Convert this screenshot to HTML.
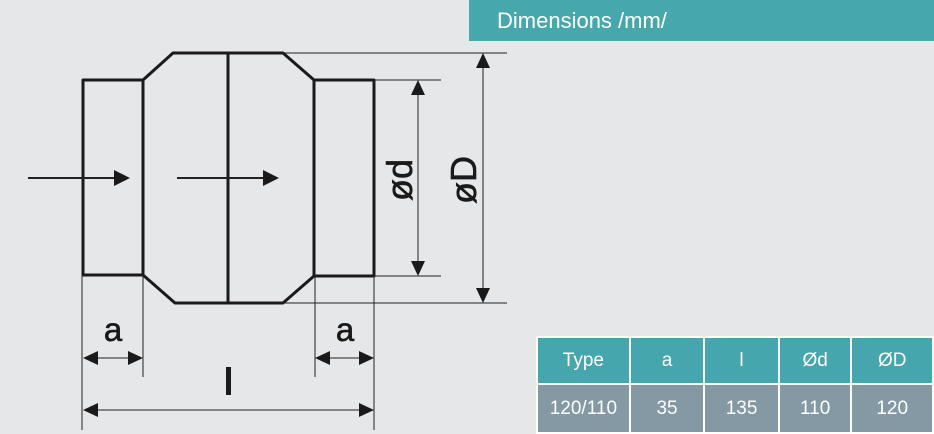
<!DOCTYPE html>
<html><head><style>
body{margin:0;width:934px;height:433px;background:#e6e7e9;overflow:hidden;position:relative;font-family:"Liberation Sans",Arial,sans-serif}
.hdr{position:absolute;left:469px;top:0;width:465px;height:41px;background:#46a7ad;color:#fff;font-size:22px;line-height:41px;padding-left:28px;box-sizing:border-box}
table{position:absolute;left:536px;top:336px;border-collapse:collapse;background:#fff}
td{border:2px solid #fff;color:#fff;font-size:19px;text-align:center;padding:0}
tr.h td{background:#45a6ae;height:45px}
tr.d td{background:#8599a4;height:47px}
</style></head><body>
<svg width="934" height="433" style="position:absolute;left:0;top:0" font-family="Liberation Sans, Arial, sans-serif">
<g fill="none" stroke="#1a1a1a" stroke-width="3" stroke-linejoin="round">
<rect x="83" y="80" width="60" height="195"/>
<rect x="314" y="80" width="60" height="196"/>
<path d="M143 80 L173 53 L283 53 L314 80 M143 275 L175 303 L283 303 L314 276"/>
<line x1="228" y1="53" x2="228" y2="303"/>
</g>
<g stroke="#222" stroke-width="1">
<line x1="283" y1="53" x2="507" y2="53"/>
<line x1="283" y1="303" x2="507" y2="303"/>
<line x1="374" y1="80" x2="441" y2="80"/>
<line x1="374" y1="276" x2="441" y2="276"/>
<line x1="483" y1="60" x2="483" y2="296"/>
<line x1="418" y1="88" x2="418" y2="268"/>
<line x1="82" y1="275" x2="82" y2="430"/>
<line x1="143" y1="275" x2="143" y2="377"/>
<line x1="315" y1="276" x2="315" y2="377"/>
<line x1="374" y1="276" x2="374" y2="430"/>
<line x1="88" y1="358" x2="138" y2="358"/>
<line x1="320" y1="358" x2="369" y2="358"/>
<line x1="88" y1="410" x2="369" y2="410"/>
<line x1="28" y1="178" x2="118" y2="178" stroke-width="2"/>
<line x1="177" y1="178" x2="266" y2="178" stroke-width="2"/>
</g>
<g fill="#1a1a1a">
<path d="M483 53 L476 68 L490 68Z M483 303 L476 288 L490 288Z"/>
<path d="M418 80 L411 95 L425 95Z M418 276 L411 261 L425 261Z"/>
<path d="M83 358 L98 351 L98 365Z M143 358 L128 351 L128 365Z"/>
<path d="M315 358 L330 351 L330 365Z M374 358 L359 351 L359 365Z"/>
<path d="M83 410 L98 403 L98 417Z M374 410 L359 403 L359 417Z"/>
<path d="M130 178 L114 170 L114 186Z M279 178 L263 170 L263 186Z"/>
<rect x="226" y="367" width="5" height="28"/>
</g>
<g fill="#1a1a1a" font-size="33" stroke="#1a1a1a" stroke-width="0.6">
<text x="113" y="341" text-anchor="middle">a</text>
<text x="345" y="341" text-anchor="middle">a</text>
<text transform="translate(412,180) rotate(-90)" text-anchor="middle" font-size="36">ød</text>
<text transform="translate(476,180) rotate(-90)" text-anchor="middle" font-size="36">øD</text>
</g>
</svg>
<div class="hdr">Dimensions /mm/</div>
<table>
<tr class="h"><td style="width:91px">Type</td><td style="width:73px">a</td><td style="width:73px">l</td><td style="width:71px">Ød</td><td style="width:80px">ØD</td></tr>
<tr class="d"><td>120/110</td><td>35</td><td>135</td><td>110</td><td>120</td></tr>
</table>
</body></html>
